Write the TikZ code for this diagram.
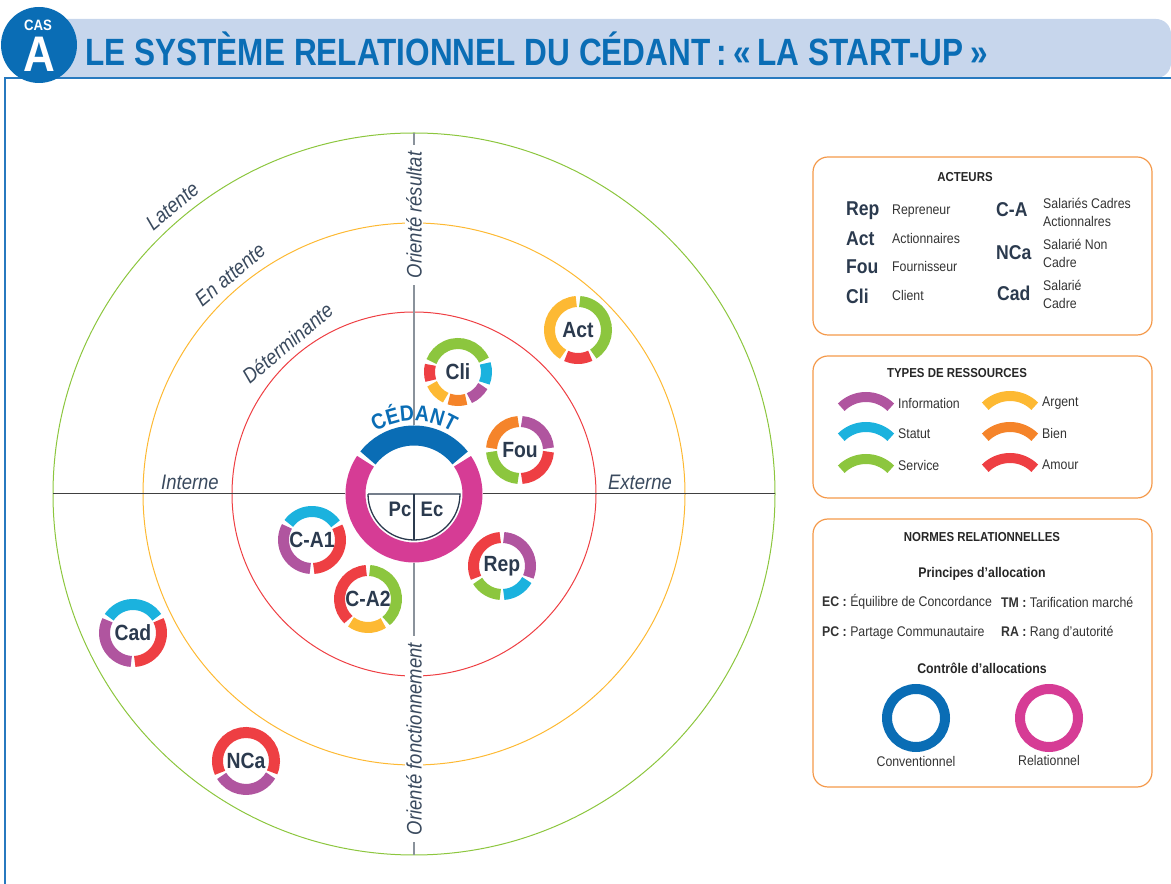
\documentclass[tikz,border=0pt]{standalone}
\usepackage{fontspec}
\setmainfont{Liberation Sans}[FakeStretch=0.88]
\newfontfamily\titlefont{Liberation Sans}[FakeStretch=0.83]
\usetikzlibrary{decorations.text}

\definecolor{cinfo}{HTML}{B0559F}
\definecolor{cstat}{HTML}{1BB2DE}
\definecolor{cserv}{HTML}{8CC63E}
\definecolor{carg}{HTML}{FDB933}
\definecolor{cbien}{HTML}{F5842A}
\definecolor{camour}{HTML}{EE3F43}
\definecolor{cconv}{HTML}{0A6DB5}
\definecolor{crel}{HTML}{D63C95}
\definecolor{navy}{HTML}{2B3A4E}
\definecolor{band}{HTML}{C7D6EC}
\definecolor{frameblue}{HTML}{2779BF}
\definecolor{boxorange}{HTML}{F4994A}
\definecolor{axisgray}{HTML}{8A929B}
\definecolor{slate}{HTML}{3A4A5E}

\tikzset{
  ringlabel/.style={font=\fontsize{22}{22}\selectfont\bfseries, text=navy},
  actcode/.style={font=\fontsize{20}{20}\selectfont\bfseries, text=navy, anchor=west, inner sep=0pt},
  desc/.style={font=\fontsize{14}{18}\selectfont, text=black!80, anchor=west, align=left, inner sep=0pt},
  head/.style={font=\fontsize{13}{13}\selectfont\bfseries, text=black!85},
  zone/.style={font=\fontsize{21}{21}\selectfont\itshape, text=slate},
  legendbox/.style={draw=boxorange, line width=1.2pt, rounded corners=15pt}
}

% ring of resources round an actor: start/end/colour
\newcommand{\actorring}[2]{%
  \foreach \a/\b/\c in {#2}
    \draw[line width=11pt, color=\c] ([shift={(\a+3.5:28.5)}]#1.center)
      arc[start angle=\a+3.5, end angle=\b-3.5, radius=28.5];}

\begin{document}
\begin{tikzpicture}[x=1pt, y=1pt]
  \useasboundingbox (0,0) rectangle (1171,884);

  % header
  \fill[band, rounded corners=15pt] (20,806) -- (20,865) -- (1171,865) -- (1171,806) -- cycle;
  \draw[frameblue, line width=1.5pt] (5,0) -- (5,806) -- (1171,806);
  \fill[cconv] (39,839) circle[radius=38];
  \node[text=white, font=\fontsize{15}{15}\selectfont\bfseries] (cas) at (38,859) {CAS};
  \node[text=white, font=\fontsize{50}{50}\selectfont\bfseries] (lettre) at (39,830) {A};
  \node[anchor=west, text=cconv, font=\titlefont\fontsize{38}{38}\selectfont\bfseries] (title)
    at (82,835) {LE SYSTÈME RELATIONNEL DU CÉDANT\,:\,«\,LA START-UP\,»};

  % zones
  \coordinate (O) at (414,390);
  \draw[cserv, line width=1pt] (O) circle[radius=361];
  \draw[carg, line width=1pt] (O) circle[radius=271];
  \draw[camour, line width=1pt] (O) circle[radius=182];
  \draw[black!75, line width=1pt] ([xshift=-361pt]O) -- ([xshift=361pt]O);
  \draw[axisgray, line width=1.3pt] ([yshift=361pt]O) -- ([yshift=-361pt]O);

  \node[zone, rotate=40] (latente) at ([shift={(130:376)}]O) {Latente};
  \node[zone, rotate=40] (attente) at ([shift={(130:286)}]O) {En attente};
  \node[zone, rotate=40] (determ) at ([shift={(130:197)}]O) {Déterminante};
  \node[zone] (interne) at (190,402) {Interne};
  \node[zone] (externe) at (640,402) {Externe};
  \node[zone, rotate=90, fill=white, inner xsep=7pt, inner ysep=1pt] (resultat) at (414,669) {Orienté résultat};
  \node[zone, rotate=90, fill=white, inner xsep=7pt, inner ysep=1pt] (fonction) at (414,145) {Orienté fonctionnement};

  % cedant
  \node[circle, fill=white, minimum size=138pt, inner sep=0pt] (ced) at (O) {};
  \draw[line width=20pt, cconv] ([shift={(38:58.5)}]ced.center) arc[start angle=38, end angle=142, radius=58.5];
  \draw[line width=20pt, crel] ([shift={(146:58.5)}]ced.center) arc[start angle=146, end angle=394, radius=58.5];
  \path[decorate, decoration={text along path, text align=center,
      text={|\fontsize{22}{22}\selectfont\bfseries\color{cconv}|CÉDANT}}]
    ([shift={(130:73)}]ced.center) arc[start angle=130, end angle=50, radius=73];
  \draw[navy, line width=1.3pt] ([xshift=-46pt]ced.center) -- ([xshift=46pt]ced.center)
    arc[start angle=0, end angle=-180, radius=46];
  \draw[navy, line width=1.3pt] (ced.center) -- ([yshift=-46pt]ced.center);
  \node[ringlabel, font=\fontsize{21}{21}\selectfont\bfseries] (pc) at (400,375) {Pc};
  \node[ringlabel, font=\fontsize{21}{21}\selectfont\bfseries] (ec) at (432,375) {Ec};

  % actors
  \node[ringlabel] (act) at (578,554) {Act};
  \node[ringlabel] (cli) at (458,512) {Cli};
  \node[ringlabel] (fou) at (520,434) {Fou};
  \node[ringlabel] (rep) at (502,318) {Rep};
  \node[ringlabel] (ca1) at (312,344) {C-A1};
  \node[ringlabel] (ca2) at (368,285) {C-A2};
  \node[ringlabel] (cad) at (133,251) {Cad};
  \node[ringlabel] (nca) at (246,123) {NCa};
  \actorring{act}{-61/90/cserv, 90/242/carg, 242/299/camour}
  \actorring{cli}{21/162/cserv, 162/201/camour, 201/248/carg, 248/290/cbien, 290/334/cinfo, 334/381/cstat}
  \actorring{fou}{0/90/cinfo, 90/180/cbien, 180/270/cserv, 270/360/camour}
  \actorring{rep}{-26/90/cinfo, 90/208/camour, 208/270/cserv, 270/334/cstat}
  \actorring{ca1}{-90/31/camour, 31/148/cstat, 148/270/cinfo}
  \actorring{ca2}{-54/90/cserv, 90/230/camour, 230/306/carg}
  \actorring{cad}{-90/30/camour, 30/150/cstat, 150/270/cinfo}
  \actorring{nca}{-27/208/camour, 208/333/cinfo}

  % legend: acteurs
  \draw[legendbox] (813,549) rectangle (1152,727);
  \node[head] (acteurs) at (965,707) {ACTEURS};
  \node[actcode] (krep) at (846,673) {Rep};
  \node[actcode] (kact) at (846,645) {Act};
  \node[actcode] (kfou) at (846,617) {Fou};
  \node[actcode] (kcli) at (846,588) {Cli};
  \node[desc] (drep) at (892,673) {Repreneur};
  \node[desc] (dact) at (892,645) {Actionnaires};
  \node[desc] (dfou) at (892,617) {Fournisseur};
  \node[desc] (dcli) at (892,588) {Client};
  \node[actcode] (kca) at (996,674) {C-A};
  \node[actcode] (knca) at (996,631) {NCa};
  \node[actcode] (kcad) at (997,591) {Cad};
  \node[desc] (dca) at (1043,672) {Salariés Cadres\\Actionnalres};
  \node[desc] (dnca) at (1043,631) {Salarié Non\\Cadre};
  \node[desc] (dcad) at (1043,590) {Salarié\\Cadre};

  % legend: ressources
  \draw[legendbox] (813,386) rectangle (1152,528);
  \node[head] (types) at (957,511) {TYPES DE RESSOURCES};
  \foreach \c/\t/\x/\y in {cinfo/Information/866/452, cstat/Statut/866/422, cserv/Service/866/390,
      carg/Argent/1010/453, cbien/Bien/1010/422, camour/Amour/1010/391}{
    \draw[line width=10pt, color=\c] ([shift={(45:35)}]\x,\y) arc[start angle=45, end angle=135, radius=35];
    \node[desc] (lab\t) at (\x+32,\y+28) {\t};
  }

  % legend: normes
  \draw[legendbox] (813,97) rectangle (1152,365);
  \node[head] (normes) at (982,347) {NORMES RELATIONNELLES};
  \node[head, font=\fontsize{14}{14}\selectfont\bfseries] (principes) at (982,310) {Principes d’allocation};
  \node[desc] (ec) at (822,282) {\textbf{EC :} Équilibre de Concordance};
  \node[desc] (tm) at (1001,282) {\textbf{TM :} Tarification marché};
  \node[desc] (pcn) at (822,251) {\textbf{PC :} Partage Communautaire};
  \node[desc] (ra) at (1001,251) {\textbf{RA :} Rang d’autorité};
  \node[head, font=\fontsize{14}{14}\selectfont\bfseries] (controle) at (982,216) {Contrôle d’allocations};
  \node (conv) at (916,166) {};
  \node (rel) at (1049,166) {};
  \draw[line width=10pt, cconv] (conv) circle[radius=29];
  \draw[line width=10pt, crel] (rel) circle[radius=29];
  \node[desc, anchor=center] (lconv) at (916,123) {Conventionnel};
  \node[desc, anchor=center] (lrel) at (1049,124) {Relationnel};
\end{tikzpicture}
\end{document}
